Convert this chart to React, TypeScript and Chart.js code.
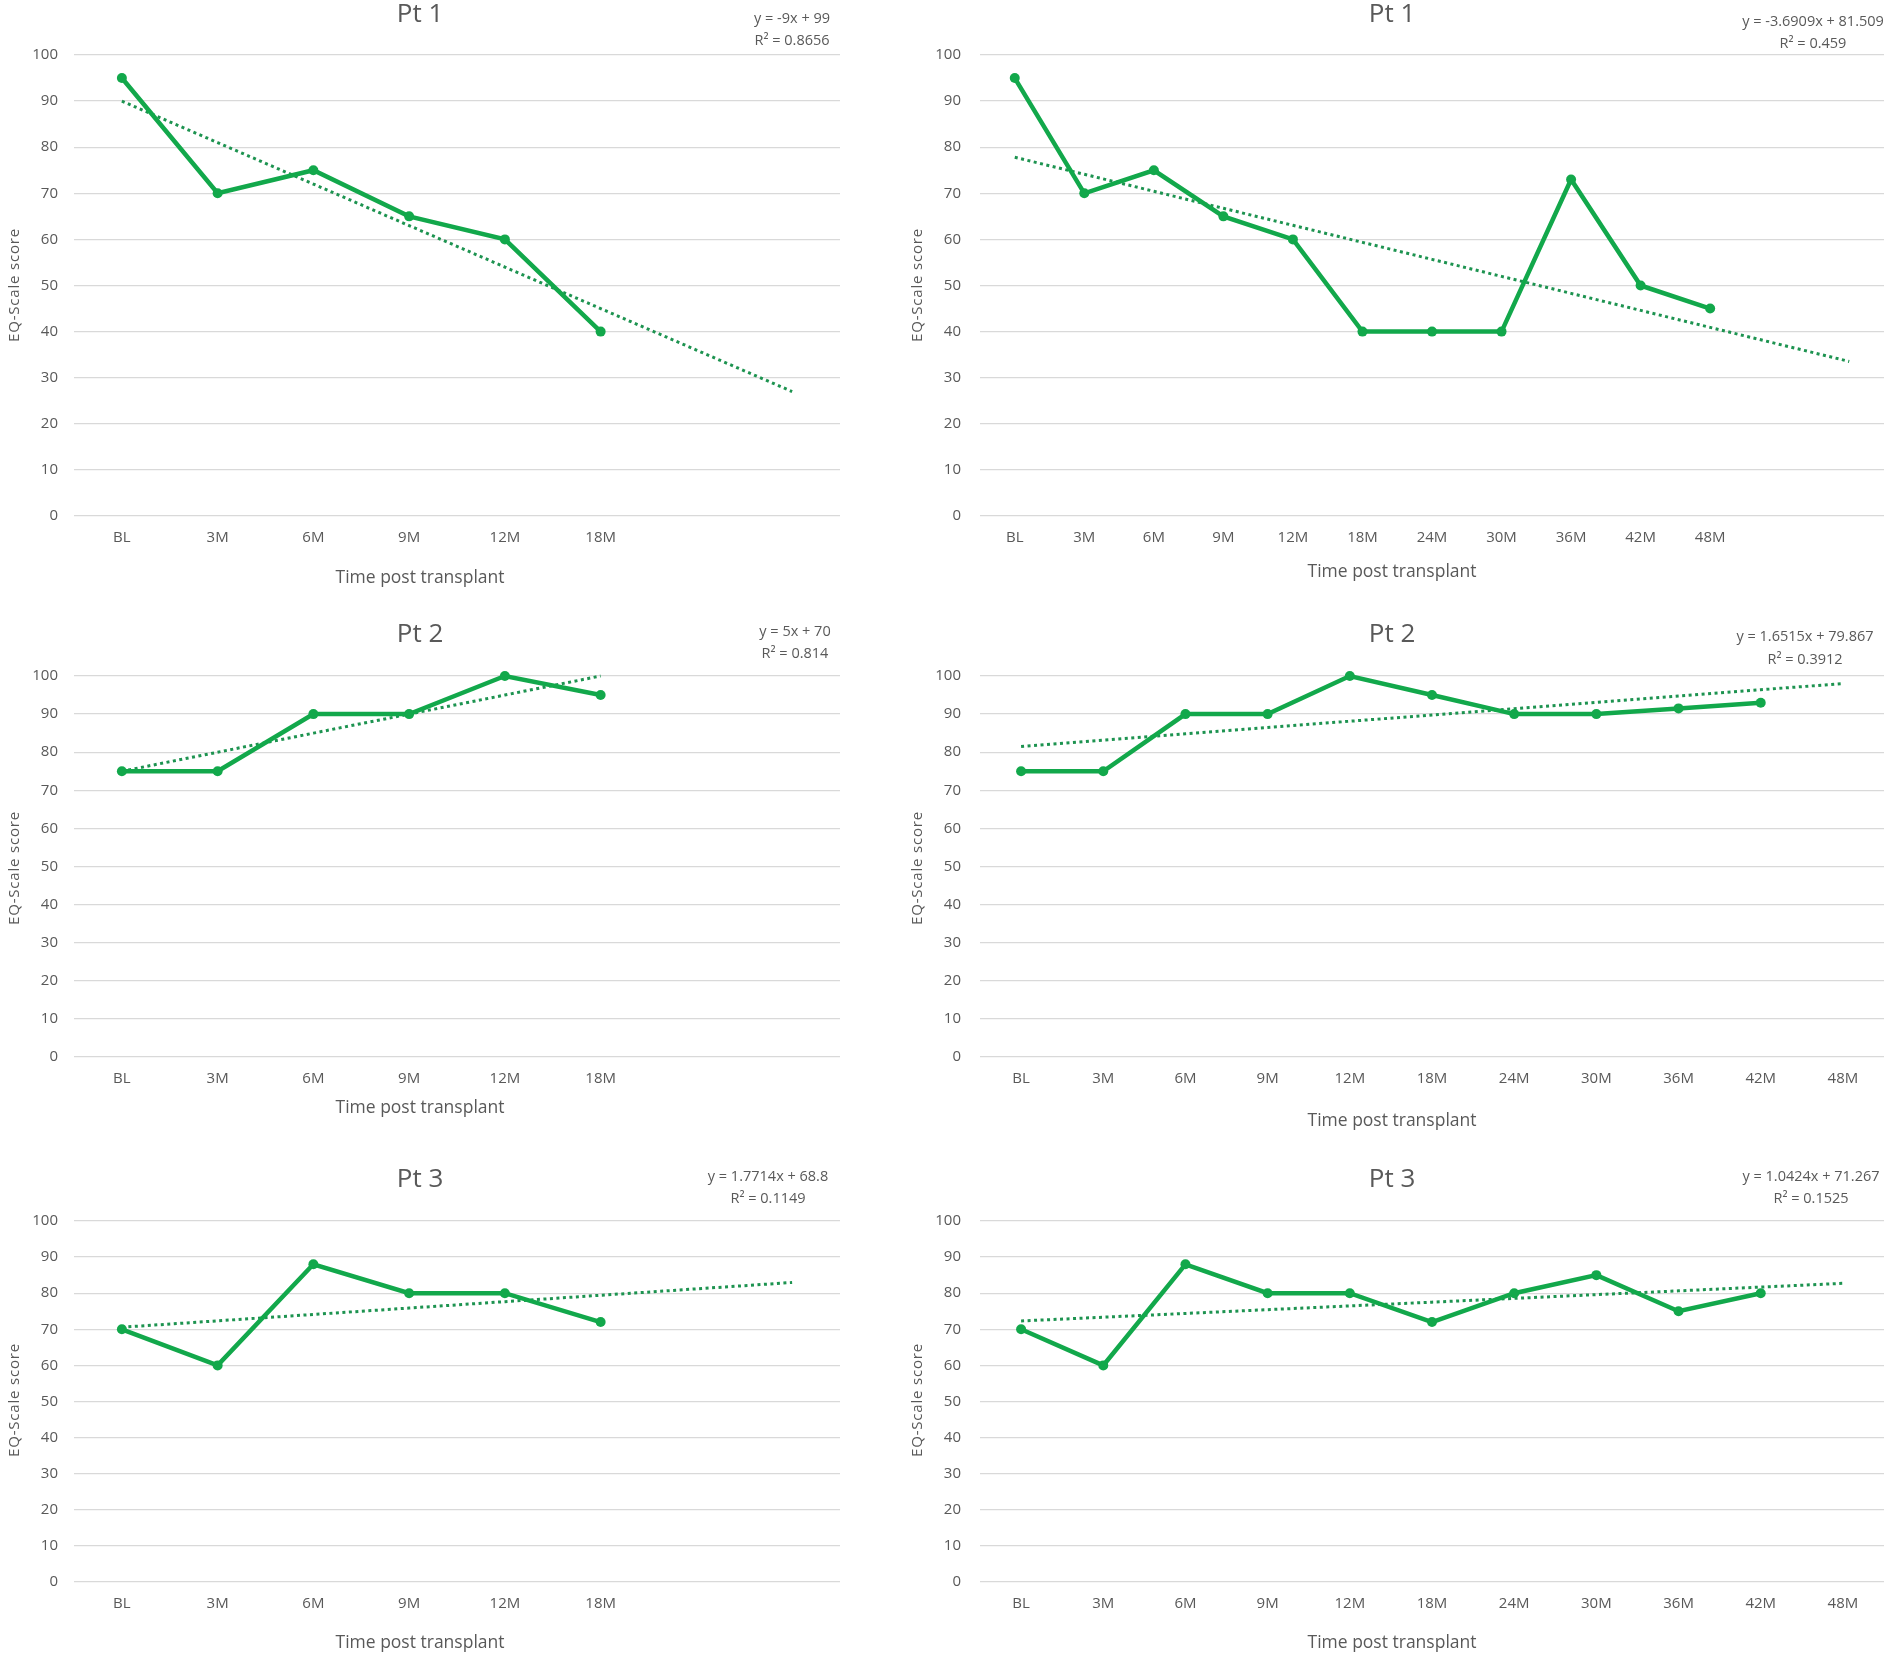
import React, { useEffect, useRef } from "react";
import { Chart, registerables } from "chart.js";

Chart.register(...registerables);

// ---------------- DATA ----------------
const shortLabels = ["BL", "3M", "6M", "9M", "12M", "18M", "", ""];
const longLabelsPt1 = ["BL", "3M", "6M", "9M", "12M", "18M", "24M", "30M", "36M", "42M", "48M", "", ""];
const longLabels = ["BL", "3M", "6M", "9M", "12M", "18M", "24M", "30M", "36M", "42M", "48M"];

const pt1Short = [95, 70, 75, 65, 60, 40];
const pt1Long = [95, 70, 75, 65, 60, 40, 40, 40, 73, 50, 45];
const pt2Short = [75, 75, 90, 90, 100, 95];
const pt2Long = [75, 75, 90, 90, 100, 95, 90, 90, 91.5, 93];
const pt3Short = [70, 60, 88, 80, 80, 72];
const pt3Long = [70, 60, 88, 80, 80, 72, 80, 85, 75, 80];

// how many categories each linear trendline covers (Excel forward forecast)
const trendSpan = [8, 13, 6, 11, 8, 11];

const panelTitles = ["Pt 1", "Pt 1", "Pt 2", "Pt 2", "Pt 3", "Pt 3"];
const equationLines = [
  ["y = -9x + 99", "R² = 0.8656"],
  ["y = -3.6909x + 81.509", "R² = 0.459"],
  ["y = 5x + 70", "R² = 0.814"],
  ["y = 1.6515x + 79.867", "R² = 0.3912"],
  ["y = 1.7714x + 68.8", "R² = 0.1149"],
  ["y = 1.0424x + 71.267", "R² = 0.1525"],
];
const yTicks = { min: 0, max: 100, step: 10 };
const xAxisTitle = "Time post transplant";
const yAxisTitle = "EQ-Scale score";

// ---------------- LAYOUT (page pixels) ----------------
const cols = [
  { x0: 0, w: 880, plotL: 74, plotR: 840, tickPad: 16, yTitleX: 15, titleX: 420, xTitleX: 420 },
  { x0: 880, w: 1021, plotL: 980, plotR: 1884, tickPad: 19, yTitleX: 918, titleX: 1392, xTitleX: 1392 },
];
const rows = [
  { y0: 0, h: 600, top: 55, bottom: 516, titleY: 15, yTitleY: 285 },
  { y0: 600, h: 550, top: 676, bottom: 1057, titleY: 635, yTitleY: 868 },
  { y0: 1150, h: 512, top: 1221, bottom: 1582, titleY: 1180, yTitleY: 1400 },
];
const eqPos = [
  { x: 792, y1: 19, y2: 41 },
  { x: 1813, y1: 22, y2: 44 },
  { x: 795, y1: 632, y2: 654 },
  { x: 1805, y1: 637, y2: 660 },
  { x: 768, y1: 1177, y2: 1199 },
  { x: 1811, y1: 1177, y2: 1199 },
];
const xTitleY = [578, 572, 1108, 1121, 1643, 1643];

const LINE_GREEN = "#12a84b";
const TREND_GREEN = "#1d9350";
const TEXT = "#595959";
const GRID = "#d9d9d9";
const FONT = '"Open Sans", "Noto Sans", sans-serif';

function leastSquares(values: number[], span: number): number[] {
  const n = values.length;
  let sx = 0, sy = 0, sxx = 0, sxy = 0;
  values.forEach((v, i) => {
    const x = i + 1;
    sx += x; sy += v; sxx += x * x; sxy += x * v;
  });
  const slope = (n * sxy - sx * sy) / (n * sxx - sx * sx);
  const icpt = (sy - slope * sx) / n;
  const out: number[] = [];
  for (let i = 0; i < span; i++) out.push(slope * (i + 1) + icpt);
  return out;
}

const panelDefs = [
  { labels: shortLabels, values: pt1Short },
  { labels: longLabelsPt1, values: pt1Long },
  { labels: shortLabels, values: pt2Short },
  { labels: longLabels, values: pt2Long },
  { labels: shortLabels, values: pt3Short },
  { labels: longLabels, values: pt3Long },
];

const textPlugin = {
  id: "panelText",
  afterDraw(chart: any, _args: any, opts: any) {
    const ctx = chart.ctx;
    ctx.save();
    ctx.fillStyle = TEXT;
    ctx.textAlign = "center";
    ctx.textBaseline = "middle";
    ctx.font = `26px ${FONT}`;
    ctx.fillText(opts.title, opts.titleX, opts.titleY);
    ctx.font = `14.5px ${FONT}`;
    ctx.fillText(opts.eq[0], opts.eqX, opts.eqY1);
    ctx.fillText(opts.eq[1], opts.eqX, opts.eqY2);
    ctx.font = `17.5px ${FONT}`;
    ctx.fillText(opts.xTitle, opts.xTitleX, opts.xTitleY);
    ctx.font = `15px ${FONT}`;
    ctx.translate(opts.yTitleX, opts.yTitleY);
    ctx.rotate(-Math.PI / 2);
    try { (ctx as any).letterSpacing = "0.8px"; } catch (e) {}
    ctx.fillText(opts.yTitle, 0, 0);
    ctx.restore();
  },
};

function Panel({ idx }: { idx: number }) {
  const ref = useRef<HTMLCanvasElement | null>(null);
  const col = cols[idx % 2];
  const row = rows[Math.floor(idx / 2)];
  useEffect(() => {
    if (!ref.current) return;
    const def = panelDefs[idx];
    const trend = leastSquares(def.values, trendSpan[idx]);
    const xAxisH = 40;
    const chart = new Chart(ref.current, {
      type: "line",
      data: {
        labels: def.labels,
        datasets: [
          {
            data: def.values,
            borderColor: LINE_GREEN,
            backgroundColor: LINE_GREEN,
            borderWidth: 4.5,
            pointRadius: 5,
            pointBorderWidth: 0,
            pointBackgroundColor: LINE_GREEN,
            tension: 0,
            fill: false,
            clip: false,
          },
          {
            data: trend,
            borderColor: TREND_GREEN,
            borderWidth: 3,
            borderDash: [3, 3.5],
            pointRadius: 0,
            tension: 0,
            fill: false,
            clip: false,
          },
        ],
      },
      options: {
        animation: false,
        responsive: false,
        events: [],
        layout: {
          padding: {
            left: 0,
            top: row.top - row.y0,
            right: col.x0 + col.w - col.plotR,
            bottom: row.h - (row.bottom - row.y0) - xAxisH,
          },
        },
        plugins: {
          legend: { display: false },
          title: { display: false },
          tooltip: { enabled: false },
          panelText: {
            title: panelTitles[idx],
            titleX: col.titleX - col.x0,
            titleY: row.titleY - row.y0,
            eq: equationLines[idx],
            eqX: eqPos[idx].x - col.x0,
            eqY1: eqPos[idx].y1 - row.y0,
            eqY2: eqPos[idx].y2 - row.y0,
            xTitle: xAxisTitle,
            xTitleX: col.xTitleX - col.x0,
            xTitleY: xTitleY[idx] - row.y0,
            yTitle: yAxisTitle,
            yTitleX: col.yTitleX - col.x0,
            yTitleY: row.yTitleY - row.y0,
          },
        } as any,
        scales: {
          x: {
            type: "category",
            offset: true,
            grid: { display: false, drawTicks: false },
            border: { display: false },
            ticks: {
              color: TEXT,
              font: { family: FONT, size: 15 },
              padding: 13,
              maxRotation: 0,
              autoSkip: false,
            },
            afterFit: (s: any) => { s.height = xAxisH; },
          },
          y: {
            min: yTicks.min,
            max: yTicks.max,
            grid: { color: GRID, lineWidth: 1.3, drawTicks: false },
            border: { display: false },
            ticks: {
              stepSize: yTicks.step,
              color: TEXT,
              font: { family: FONT, size: 15 },
              padding: col.tickPad,
            },
            afterFit: (s: any) => { s.width = col.plotL - col.x0; },
          },
        },
      } as any,
      plugins: [textPlugin as any],
    });
    return () => chart.destroy();
  }, [idx]);
  return (
    <canvas
      ref={ref}
      width={col.w}
      height={row.h}
      style={{ position: "absolute", left: col.x0, top: row.y0, width: col.w, height: row.h }}
    />
  );
}

export default function App() {
  return (
    <div style={{ position: "absolute", left: 0, top: 0, width: 1901, height: 1662, background: "#fff" }}>
      {[0, 1, 2, 3, 4, 5].map((i) => (
        <Panel key={i} idx={i} />
      ))}
    </div>
  );
}
